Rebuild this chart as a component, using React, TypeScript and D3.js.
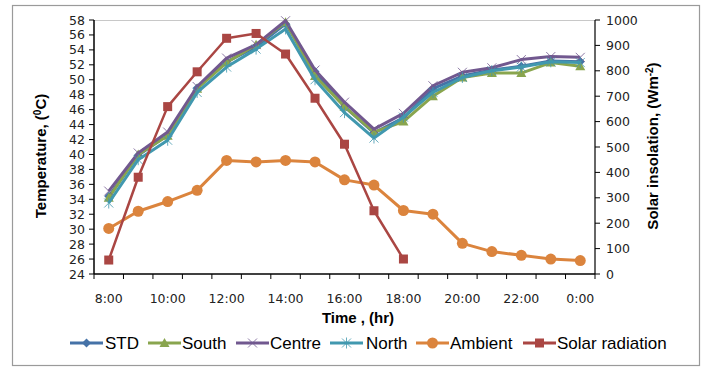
import * as d3 from "d3"

const hours = ["8:00", "9:00", "10:00", "11:00", "12:00", "13:00", "14:00", "15:00", "16:00", "17:00", "18:00", "19:00", "20:00", "21:00", "22:00", "23:00", "0:00"]
const tempTicks = [24, 26, 28, 30, 32, 34, 36, 38, 40, 42, 44, 46, 48, 50, 52, 54, 56, 58]
const solarTicks = [0, 100, 200, 300, 400, 500, 600, 700, 800, 900, 1000]

const std = [34.4, 39.9, 42.6, 48.9, 52.4, 54.4, 57.5, 51.1, 46.4, 42.9, 44.9, 48.8, 50.5, 51.3, 51.8, 52.5, 52.4]
const south = [34.2, 40.0, 42.5, 48.8, 52.3, 54.7, 57.7, 50.5, 46.4, 43.0, 44.4, 47.8, 50.3, 50.9, 50.9, 52.3, 51.8]
const centre = [35.1, 40.2, 43.0, 49.1, 52.9, 54.7, 57.9, 51.3, 47.0, 43.4, 45.5, 49.2, 51.0, 51.6, 52.7, 53.1, 53.0]
const north = [33.5, 39.3, 41.9, 48.3, 51.7, 54.1, 56.8, 50.0, 45.6, 42.2, 45.0, 48.3, 50.3, 51.2, 51.7, 52.4, 52.3]
const ambient = [30.1, 32.4, 33.7, 35.2, 39.2, 39.0, 39.2, 39.0, 36.6, 35.9, 32.5, 32.0, 28.1, 27.0, 26.5, 26.0, 25.8]
const solar = [55, 381, 659, 796, 928, 947, 866, 692, 511, 249, 59]

type Marker = "diamond" | "triangle" | "x" | "star" | "circle" | "square"

const series: { name: string; values: number[]; color: string; marker: Marker; axis: "left" | "right"; width: number }[] = [
  { name: "STD", values: std, color: "#4572A7", marker: "diamond", axis: "left", width: 3 },
  { name: "South", values: south, color: "#89A54E", marker: "triangle", axis: "left", width: 3 },
  { name: "Centre", values: centre, color: "#71588F", marker: "x", axis: "left", width: 3 },
  { name: "North", values: north, color: "#4198AF", marker: "star", axis: "left", width: 3 },
  { name: "Ambient", values: ambient, color: "#DB843D", marker: "circle", axis: "left", width: 3 },
  { name: "Solar radiation", values: solar, color: "#AA4643", marker: "square", axis: "right", width: 2.5 },
]

const W = 706
const H = 367
const left = 94
const right = 595
const top = 20
const bottom = 274

function MarkerShape({ type, x, y, color }: { type: Marker; x: number; y: number; color: string }) {
  switch (type) {
    case "diamond":
      return <path d={`M${x},${y - 4.5}L${x + 4.5},${y}L${x},${y + 4.5}L${x - 4.5},${y}Z`} fill={color} />
    case "triangle":
      return <path d={`M${x},${y - 5}L${x + 5},${y + 4}L${x - 5},${y + 4}Z`} fill={color} />
    case "x":
      return (
        <path d={`M${x - 4.5},${y - 4.5}L${x + 4.5},${y + 4.5}M${x + 4.5},${y - 4.5}L${x - 4.5},${y + 4.5}`} stroke={color} strokeWidth={1} opacity={0.8} />
      )
    case "star":
      return (
        <path
          d={`M${x - 4.5},${y - 4.5}L${x + 4.5},${y + 4.5}M${x + 4.5},${y - 4.5}L${x - 4.5},${y + 4.5}M${x},${y - 5.5}L${x},${y + 5.5}`}
          stroke={color}
          strokeWidth={1}
          opacity={0.8}
        />
      )
    case "circle":
      return <circle cx={x} cy={y} r={5.5} fill={color} />
    case "square":
      return <rect x={x - 4.5} y={y - 4.5} width={9} height={9} fill={color} />
  }
}

export default function App() {
  const x = d3.scaleBand().domain(hours).range([left, right])
  const cx = (h: string) => (x(h) ?? 0) + x.bandwidth() / 2
  const yT = d3.scaleLinear().domain([24, 58]).range([bottom, top])
  const yS = d3.scaleLinear().domain([0, 1000]).range([bottom, top])

  const boundaries = hours.map((h) => x(h) ?? 0).concat([right])

  const legendItems = [
    { x: 70, tx: 105 },
    { x: 148, tx: 182 },
    { x: 236, tx: 270 },
    { x: 330, tx: 366 },
    { x: 416, tx: 450 },
    { x: 523, tx: 557 },
  ]

  return (
    <svg width={W} height={H} style={{ position: "absolute", left: 0, top: 0, background: "#fff" }}>
      <rect x={12.5} y={5.5} width={687} height={360} fill="#fff" stroke="#9a9a9a" strokeWidth={1.2} />

      {/* top border line of plot area */}
      <line x1={left} x2={right} y1={top + 0.5} y2={top + 0.5} stroke="#c8c8c8" strokeWidth={1} />

      {/* left axis */}
      <line x1={left} x2={left} y1={top} y2={bottom} stroke="#000" strokeWidth={1.5} />
      {tempTicks.map((t) => (
        <g key={t}>
          <line x1={left - 5} x2={left} y1={yT(t)} y2={yT(t)} stroke="#000" strokeWidth={1} />
          <text x={left - 9} y={yT(t)} dy="0.36em" textAnchor="end" fontFamily="DejaVu Sans" fontSize={12.5} fill="#222">
            {t}
          </text>
        </g>
      ))}

      {/* right axis */}
      <line x1={right} x2={right} y1={top} y2={bottom} stroke="#333" strokeWidth={1.5} />
      {solarTicks.map((t) => (
        <g key={t}>
          <line x1={right} x2={right + 5} y1={yS(t)} y2={yS(t)} stroke="#000" strokeWidth={1} />
          <text x={right + 11} y={yS(t)} dy="0.36em" textAnchor="start" fontFamily="DejaVu Sans" fontSize={12.5} fill="#222">
            {t}
          </text>
        </g>
      ))}

      {/* bottom axis */}
      <line x1={left} x2={right} y1={bottom} y2={bottom} stroke="#000" strokeWidth={1.5} />
      {boundaries.map((b, i) => (
        <line key={i} x1={b} x2={b} y1={bottom} y2={bottom + 5} stroke="#000" strokeWidth={1} />
      ))}
      {hours.map((h, i) =>
        i % 2 === 0 ? (
          <text key={h} x={cx(h)} y={298} dy="0.36em" textAnchor="middle" fontFamily="DejaVu Sans" fontSize={12.5} fill="#222">
            {h}
          </text>
        ) : null
      )}

      {/* axis titles */}
      <text x={358} y={318} dy="0.36em" textAnchor="middle" fontFamily="Liberation Sans" fontWeight="bold" fontSize={15} fill="#000">
        Time , (hr)
      </text>
      <text
        transform={`translate(41,156) rotate(-90)`}
        dy="0.36em"
        textAnchor="middle"
        fontFamily="Liberation Sans"
        fontWeight="bold"
        fontSize={15}
        fill="#000"
      >
        Temperature, (<tspan dy="-5" fontSize={10}>0</tspan>
        <tspan dy="5">C)</tspan>
      </text>
      <text
        transform={`translate(653,146) rotate(-90)`}
        dy="0.36em"
        textAnchor="middle"
        fontFamily="Liberation Sans"
        fontWeight="bold"
        fontSize={15}
        fill="#000"
      >
        Solar insolation, (Wm<tspan dy="-5" fontSize={10}>-2</tspan>
        <tspan dy="5">)</tspan>
      </text>

      {/* series */}
      {series.map((s) => {
        const y = s.axis === "left" ? yT : yS
        const line = d3
          .line<number>()
          .x((_, i) => cx(hours[i]))
          .y((v) => y(v))
        return (
          <g key={s.name}>
            <path d={line(s.values) ?? ""} fill="none" stroke={s.color} strokeWidth={s.width} strokeLinejoin="round" />
            {s.values.map((v, i) => (
              <MarkerShape key={i} type={s.marker} x={cx(hours[i])} y={y(v)} color={s.color} />
            ))}
          </g>
        )
      })}

      {/* legend */}
      {series.map((s, i) => {
        const it = legendItems[i]
        return (
          <g key={s.name}>
            <line x1={it.x} x2={it.x + 33} y1={343} y2={343} stroke={s.color} strokeWidth={3} />
            <MarkerShape type={s.marker} x={it.x + 16.5} y={343} color={s.color} />
            <text x={it.tx} y={343} dy="0.36em" fontFamily="Liberation Sans" fontSize={17} fill="#000">
              {s.name}
            </text>
          </g>
        )
      })}
    </svg>
  )
}
